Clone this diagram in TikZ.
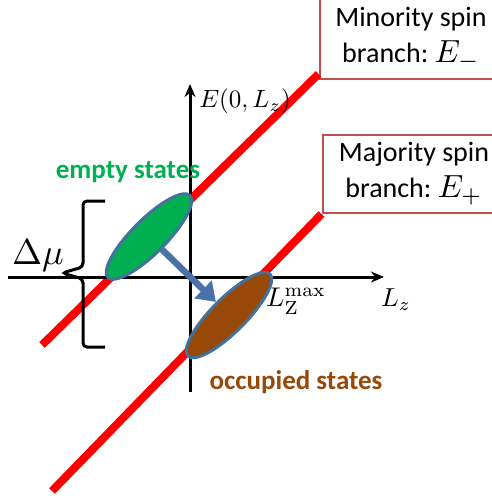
\documentclass[tikz,border=0pt]{standalone}
\usepackage{amsmath,amssymb}
\usepackage{fontspec}
\newfontfamily\calibri{Carlito}
\usepackage{xcolor}
\usetikzlibrary{arrows.meta}
\usetikzlibrary{shapes.geometric}
\usetikzlibrary{calc}
\definecolor{verde}{HTML}{00B050}
\definecolor{marrom}{HTML}{984807}
\definecolor{contorno}{HTML}{41719C}
\definecolor{moldura}{HTML}{C0504D}
\definecolor{azulseta}{HTML}{4A72A8}
\newcommand{\ramolab}[1]{\scalebox{3.2}{\normalsize$E_{#1}$}}
\tikzset{
  caixa/.style={draw=moldura, line width=2pt, fill=white, align=center, inner sep=0pt, minimum width=183pt, minimum height=#1, font=\calibri\fontsize{28}{36}\selectfont},
  caixa/.default=80pt,
  eixo/.style={-{Stealth[length=13pt, width=11pt]}, line width=3pt},
  ramo/.style={red, line width=8pt},
  estado/.style={ellipse, draw=contorno, line width=3pt, rotate=45, minimum width=116pt, minimum height=34pt, inner sep=0pt},
  seta/.style={-{Triangle[length=18pt, width=24pt]}, line width=6.5pt, draw=azulseta},
  rotulo/.style={font=\calibri\bfseries\fontsize{27}{32}\selectfont},
  mat/.style={scale=#1, inner sep=0pt},
  mat/.default=2.6,
}

\begin{document}
\begin{tikzpicture}[x=1pt, y=-1pt]
  \useasboundingbox (0,0) rectangle (492,496);

  % caixas dos ramos
  \node[caixa=81pt] (minbox) at (411,38.5) {Minority spin\\branch:\ \ramolab{-}};
  \node[caixa=78pt] (majbox) at (414,174) {Majority spin\\branch:\ \ramolab{+}};

  % ramos de spin
  \coordinate (minini) at (42,345);
  \coordinate (majini) at (52,491);
  \draw[ramo] (minini) -- ($(minbox.south west)+(0,-6)$);
  \draw[ramo] (majini) -- (majbox.south west);

  % eixos
  \coordinate (hini) at (8,277);
  \coordinate (hfim) at (384,277);
  \coordinate (vini) at (190,392);
  \coordinate (vfim) at (190,84);
  \draw[eixo] (hini) -- (hfim);
  \draw[eixo] (vini) -- (vfim);
  \node[mat=2.5] (elab) at (245,101) {$E(0,L_z)$};
  \node[mat] (lzlab) at (396,300) {$L_z$};

  % estados
  \node[estado, fill=verde] (vazio) at (149,236.5) {};
  \node[estado, fill=marrom] (ocupado) at (229,315) {};
  \draw[seta] (vazio.south) -- (ocupado.north);
  \node[mat=2.7] (lmax) at (296,301) {$L_{\mathrm{Z}}^{\max}$};

  \node[rotulo, text=verde] (vaziolab) at (128,172) {empty states};
  \node[rotulo, text=marrom] (ocupadolab) at (296,382) {occupied states};

  % chave
  \draw[line width=3pt, rounded corners=4pt] (105,201) -- (83,201) -- (83,267) -- (62,273) -- (83,279) -- (83,347) -- (105,347);
  \node[mat=3.6] (dmu) at (38,256) {$\Delta\mu$};
\end{tikzpicture}
\end{document}
